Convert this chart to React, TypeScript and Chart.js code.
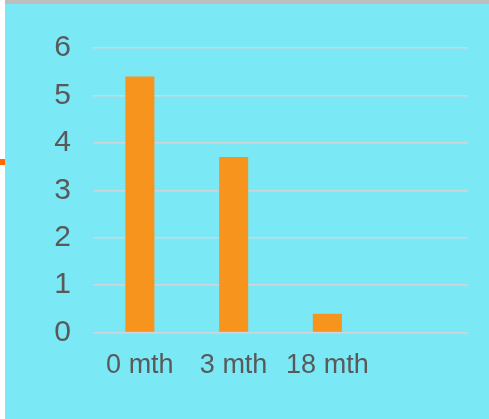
import React, { useEffect, useRef } from "react";
import { Chart, registerables } from "chart.js";

Chart.register(...registerables);

const categories = ["0 mth", "3 mth", "18 mth", ""];
const values = [5.4, 3.7, 0.4, null];
const yTicks = [0, 1, 2, 3, 4, 5, 6];

export default function App() {
  const ref = useRef<HTMLCanvasElement | null>(null);

  useEffect(() => {
    document.body.style.margin = "0";
    const ctx = ref.current;
    if (!ctx) return;
    const chart = new Chart(ctx, {
      type: "bar",
      data: {
        labels: categories,
        datasets: [
          {
            data: values as any,
            backgroundColor: "#f7941e",
            barPercentage: 0.31,
            categoryPercentage: 1,
          },
        ],
      },
      options: {
        animation: false,
        responsive: false,
        maintainAspectRatio: false,
        layout: { padding: { top: 44, right: 21, bottom: 20, left: 0 } },
        plugins: { legend: { display: false }, tooltip: { enabled: false } },
        scales: {
          x: {
            grid: { display: false, drawTicks: false },
            border: { display: false },
            ticks: {
              color: "#595959",
              padding: 17,
              font: { family: "Liberation Sans, Arial", size: 27 },
              maxRotation: 0,
              autoSkip: false,
            },
          },
          y: {
            min: yTicks[0],
            max: yTicks[yTicks.length - 1],
            afterFit: (s: any) => {
              s.width = 88;
            },
            afterBuildTicks: (s: any) => {
              s.ticks = yTicks.map((v) => ({ value: v }));
            },
            grid: { color: "#cfd6da", lineWidth: 1.5, drawTicks: false },
            border: { display: false },
            ticks: {
              color: "#595959",
              padding: 22,
              font: { family: "Liberation Sans, Arial", size: 30 },
            },
          },
        },
      },
    });
    return () => chart.destroy();
  }, []);

  return (
    <div style={{ position: "fixed", left: 0, top: 0, width: 489, height: 419, background: "#ffffff" }}>
      <div style={{ position: "absolute", left: 5, top: 0, width: 484, height: 4, background: "#bdbdbd" }} />
      <div style={{ position: "absolute", left: 0, top: 159, width: 5, height: 6, background: "#ff6a00" }} />
      <div style={{ position: "absolute", left: 5, top: 4, width: 484, height: 415, background: "#7be8f6" }}>
        <canvas ref={ref} width={484} height={415} style={{ display: "block", width: 484, height: 415 }} />
      </div>
    </div>
  );
}
